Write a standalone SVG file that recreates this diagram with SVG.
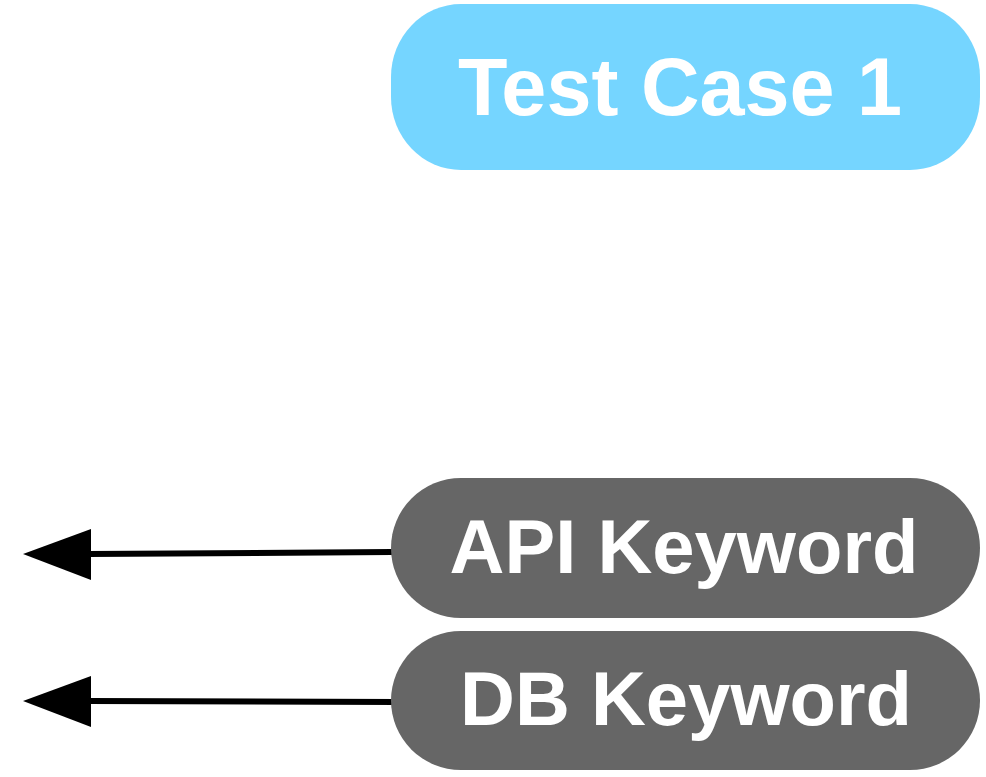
<svg xmlns="http://www.w3.org/2000/svg" width="986" height="777" viewBox="0 0 986 777">
<defs>
<style>
.lbl{font-family:"Liberation Sans",Arial,Helvetica,sans-serif;font-weight:bold;fill:#ffffff;text-anchor:middle}
.edge{stroke:#000;stroke-width:6;fill:none;stroke-linecap:round}
.head{fill:#000}
</style>
</defs>
<rect width="986" height="777" fill="#fff"/>
<g id="connectors">
<path class="edge" d="M392,552 L88,554"/>
<polygon class="head" points="23,554 91,529 91,580"/>
<path class="edge" d="M397,702 L88,701"/>
<polygon class="head" points="23,701 91,676 91,727"/>
</g>
<g id="test-case-1">
<rect x="391" y="4" width="589" height="166" rx="70" ry="73" fill="#75D5FF"/>
<text class="lbl" x="680" y="115" font-size="81">Test Case 1</text>
</g>
<g id="api-keyword">
<rect x="391" y="478" width="589" height="140" rx="70" ry="70" fill="#666666"/>
<text class="lbl" x="684" y="573" font-size="76">API Keyword</text>
</g>
<g id="db-keyword">
<rect x="391" y="631" width="589" height="139" rx="70" ry="70" fill="#666666"/>
<text class="lbl" x="686" y="725" font-size="76">DB Keyword</text>
</g>
</svg>
